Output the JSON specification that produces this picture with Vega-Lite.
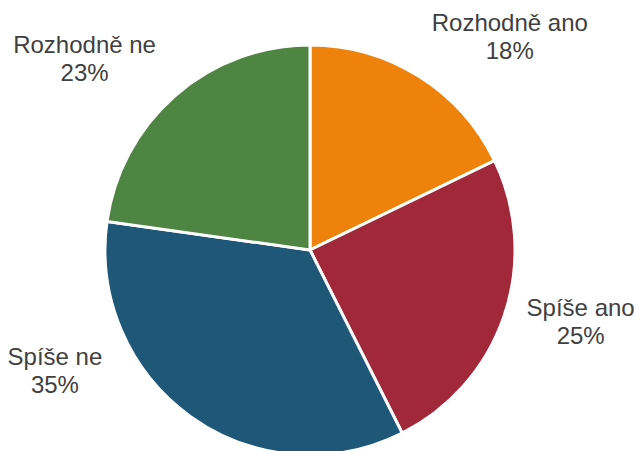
{
  "$schema": "https://vega.github.io/schema/vega-lite/v6.json",
  "width": 620,
  "height": 402,
  "autosize": {"type": "none"},
  "padding": {"left": 0, "top": 49, "right": 16, "bottom": 0},
  "background": "white",
  "config": {"view": {"stroke": null}},
  "data": {
    "values": [
      {"poradi": 1, "kategorie": "Rozhodně ano", "podil": 18},
      {"poradi": 2, "kategorie": "Spíše ano", "podil": 25},
      {"poradi": 3, "kategorie": "Spíše ne", "podil": 35},
      {"poradi": 4, "kategorie": "Rozhodně ne", "podil": 23}
    ]
  },
  "transform": [
    {"calculate": "datum.kategorie + '\\n' + datum.podil + '%'", "as": "popisek"}
  ],
  "encoding": {
    "theta": {"field": "podil", "type": "quantitative", "stack": true},
    "order": {"field": "poradi", "type": "quantitative"}
  },
  "layer": [
    {
      "mark": {"type": "arc", "outerRadius": 205, "stroke": "white", "strokeWidth": 3},
      "encoding": {
        "color": {
          "field": "kategorie",
          "type": "nominal",
          "legend": null,
          "scale": {
            "domain": ["Rozhodně ano", "Spíše ano", "Spíše ne", "Rozhodně ne"],
            "range": ["#EF820A", "#A12839", "#1E5778", "#4E8542"]
          }
        }
      }
    },
    {
      "mark": {
        "type": "text",
        "font": "Liberation Sans",
        "fontSize": 24,
        "lineHeight": 28,
        "lineBreak": "\n",
        "align": "center",
        "baseline": "middle",
        "color": "#404040",
        "radius": {"expr": "{'Rozhodně ano': 302, 'Spíše ano': 277, 'Spíše ne': 277, 'Rozhodně ne': 304}[datum.kategorie]"},
        "thetaOffset": {"expr": "{'Rozhodně ano': 0.163, 'Spíše ano': -0.112, 'Spíše ne': 0.548, 'Rozhodně ne': -0.120}[datum.kategorie]"}
      },
      "encoding": {
        "detail": {"field": "kategorie", "type": "nominal"},
        "text": {"field": "popisek", "type": "nominal"}
      }
    }
  ]
}
